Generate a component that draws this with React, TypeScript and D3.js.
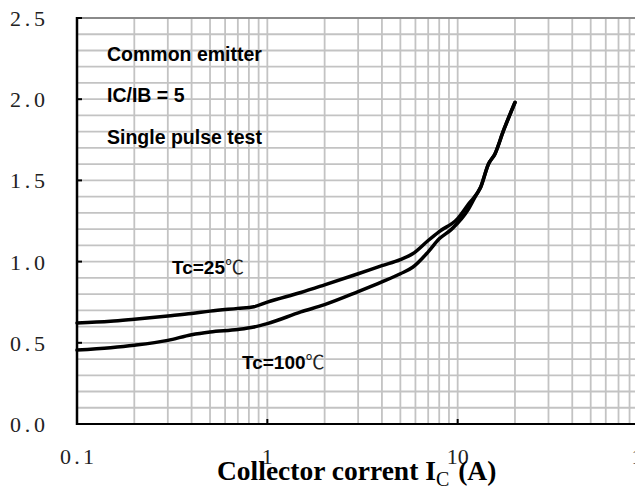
import React from "react";
import * as d3 from "d3";

// ---- data ----
const currents25 = [0.1, 0.15, 0.2, 0.3, 0.4, 0.5, 0.7, 0.85, 1, 1.5, 2, 3, 4, 5, 5.8, 7, 8, 10, 11.4, 13.2, 14.5, 15.7, 17.4, 20];
const vce25 = [0.622, 0.632, 0.645, 0.665, 0.68, 0.695, 0.712, 0.722, 0.75, 0.81, 0.857, 0.925, 0.975, 1.012, 1.048, 1.13, 1.185, 1.265, 1.355, 1.458, 1.6, 1.663, 1.806, 1.98];

const currents100 = [0.1, 0.15, 0.2, 0.3, 0.4, 0.5, 0.7, 0.85, 1, 1.5, 2, 3, 4, 5, 5.8, 7, 8, 9.3, 11.4, 12.5, 13.2, 14.5, 15.7, 17.4, 20];
const vce100 = [0.455, 0.47, 0.485, 0.515, 0.55, 0.567, 0.582, 0.597, 0.618, 0.69, 0.735, 0.815, 0.875, 0.925, 0.965, 1.06, 1.14, 1.2, 1.324, 1.41, 1.458, 1.6, 1.663, 1.806, 1.98];

const xTicks = [0.1, 1, 10, 100];
const xTickLabels = ["0.1", "1", "10", "100"];
const yTicks = [0, 0.5, 1.0, 1.5, 2.0, 2.5];
const yTickLabels = ["0.0", "0.5", "1.0", "1.5", "2.0", "2.5"];

const annotations = ["Common emitter", "IC/IB = 5", "Single pulse test"];
const curveLabels = [
  { text: "Tc=25", unit: "℃" },
  { text: "Tc=100", unit: "℃" },
];

const W = 635;
const H = 493;

export default function App() {
  const left = 77;
  const top = 18;
  const bottom = 424;
  const right = 648;

  const x = d3.scaleLog().domain([0.1, 100]).range([left, right]);
  const y = d3.scaleLinear().domain([0, 2.5]).range([bottom, top]);

  const vGrid: number[] = [];
  for (let dec = 0.1; dec < 100; dec *= 10) {
    for (let m = 1; m <= 9; m++) {
      const v = +(dec * m).toPrecision(3);
      if (v > 0.1) vGrid.push(v);
    }
  }
  vGrid.push(100);
  const hGrid = d3.range(1, 25).map((i) => i / 10);

  const line = d3
    .line<[number, number]>()
    .x((d) => x(d[0]))
    .y((d) => y(d[1]))
    .curve(d3.curveMonotoneX);

  const d25 = line(currents25.map((c, i) => [c, vce25[i]] as [number, number])) || "";
  const d100 = line(currents100.map((c, i) => [c, vce100[i]] as [number, number])) || "";

  const serif = "'Liberation Serif', 'DejaVu Serif', serif";
  const sans = "'Liberation Sans', Arial, sans-serif";

  return (
    <svg
      width={W}
      height={H}
      style={{ position: "absolute", left: 0, top: 0, background: "#fff" }}
    >
      <rect x={0} y={0} width={W} height={H} fill="#fff" />
      {/* grid */}
      {hGrid.map((v) => (
        <line key={"h" + v} x1={left} x2={right} y1={y(v)} y2={y(v)} stroke="#c3c3c3" strokeWidth={1.8} />
      ))}
      {vGrid.map((v) => (
        <line key={"v" + v} x1={x(v)} x2={x(v)} y1={top} y2={bottom} stroke="#c3c3c3" strokeWidth={1.8} />
      ))}
      {/* top border */}
      <line x1={left} x2={right} y1={top} y2={top} stroke="#8a8a8a" strokeWidth={2} />
      {/* axes */}
      <line x1={left} x2={right} y1={bottom} y2={bottom} stroke="#000" strokeWidth={2} />
      <line x1={left} x2={left} y1={top - 1} y2={bottom + 1} stroke="#000" strokeWidth={2.5} />
      {yTicks.map((v) => (
        <line key={"yt" + v} x1={left} x2={left + 5} y1={y(v)} y2={y(v)} stroke="#000" strokeWidth={2} />
      ))}
      {xTicks.map((v) => (
        <line key={"xt" + v} x1={x(v)} x2={x(v)} y1={bottom} y2={bottom - 5} stroke="#000" strokeWidth={2} />
      ))}
      {/* tick labels */}
      {yTicks.map((v, i) => (
        <text
          key={"yl" + v}
          x={10}
          y={y(v) + 8}
          fontFamily={serif}
          fontSize={22}
          fill="#222"
          textLength={35}
          lengthAdjust="spacing"
        >
          {yTickLabels[i]}
        </text>
      ))}
      {xTicks.map((v, i) => (
        <text
          key={"xl" + v}
          x={x(v)}
          y={464}
          fontFamily={serif}
          fontSize={22}
          fill="#222"
          textAnchor="middle"
          {...(xTickLabels[i].includes(".") ? { textLength: 34, lengthAdjust: "spacing" } : {})}
        >
          {xTickLabels[i]}
        </text>
      ))}
      {/* curves */}
      <path d={d25} fill="none" stroke="#000" strokeWidth={3.5} strokeLinejoin="round" strokeLinecap="round" />
      <path d={d100} fill="none" stroke="#000" strokeWidth={3.5} strokeLinejoin="round" strokeLinecap="round" />
      {/* annotations */}
      {annotations.map((t, i) => (
        <text key={t} x={107} y={[61, 102, 144][i]} fontFamily={sans} fontWeight="bold" fontSize={19.5} fill="#000">
          {t}
        </text>
      ))}
      {curveLabels.map((c, i) => (
        <text key={c.text} x={[172, 242][i]} y={[274, 369][i]} fontFamily={sans} fontWeight="bold" fontSize={19} fill="#000">
          {c.text}
          <tspan fontFamily="'Noto Sans CJK SC', sans-serif" fontWeight="normal" fill="#222">
            {c.unit}
          </tspan>
        </text>
      ))}
      {/* axis title */}
      <text x={217} y={480} fontFamily={serif} fontWeight="bold" fontSize={27.5} fill="#000">
        Collector corrent I
        <tspan fontSize={20} fontWeight="normal" dy={6}>C</tspan>
        <tspan dy={-6} dx={2}> (A)</tspan>
      </text>
    </svg>
  );
}
